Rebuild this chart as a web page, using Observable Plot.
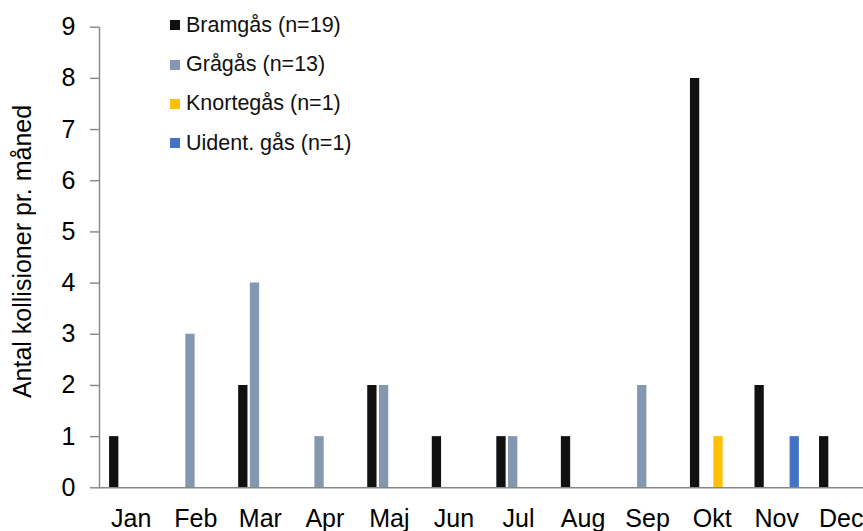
<!DOCTYPE html>
<html>
<head>
<meta charset="utf-8">
<script src="https://cdn.jsdelivr.net/npm/d3@7"></script>
<script src="https://cdn.jsdelivr.net/npm/@observablehq/plot@0.6"></script>
<style>
  html, body { margin: 0; padding: 0; background: white; overflow: hidden; }
  #wrap { position: relative; width: 863px; height: 531px; overflow: hidden; }
  #legend { position: absolute; left: 170px; top: 5.5px; font-family: "Liberation Sans", Arial, sans-serif; font-size: 21.5px; color: #111; }
  .item { display: flex; align-items: center; height: 39.4px; white-space: nowrap; }
  .sw { width: 10px; height: 10px; margin-right: 6px; }
</style>
</head>
<body>
<div id="wrap"><div id="legend"></div></div>
<script>
const months = ["Jan", "Feb", "Mar", "Apr", "Maj", "Jun", "Jul", "Aug", "Sep", "Okt", "Nov", "Dec"];
const seriesNames = ["Bramgås (n=19)", "Grågås (n=13)", "Knortegås (n=1)", "Uident. gås (n=1)"];
const bramgas   = [1, 0, 2, 0, 2, 1, 1, 1, 0, 8, 2, 1];
const gragas    = [0, 3, 4, 1, 2, 0, 1, 0, 2, 0, 0, 0];
const knortegas = [0, 0, 0, 0, 0, 0, 0, 0, 0, 1, 0, 0];
const uident    = [0, 0, 0, 0, 0, 0, 0, 0, 0, 0, 1, 0];
const yTicks = [0, 1, 2, 3, 4, 5, 6, 7, 8, 9];
const yTitle = "Antal kollisioner pr. måned";

const seriesValues = [bramgas, gragas, knortegas, uident];
const colors = ["#111111", "#8497b0", "#ffc000", "#4472c4"];
const offsets = [-17.55, -5.85, 5.85, 17.55];

const barMarks = seriesValues.map((vals, s) =>
  Plot.ruleX(
    months.map((m, i) => ({month: m, value: vals[i]})).filter(d => d.value > 0),
    {x: "month", y1: 0, y2: "value", stroke: colors[s], strokeWidth: 9.3, dx: offsets[s]}
  )
);

const chart = Plot.plot({
  width: 863,
  height: 531,
  marginLeft: 99,
  marginTop: 27,
  marginBottom: 44,
  marginRight: 0,
  x: {type: "band", domain: months, range: [98.5, 873], padding: 0, round: false},
  y: {domain: [0, 9], range: [487.3, 26.7]},
  style: {fontFamily: "'Liberation Sans', Arial, sans-serif", fontSize: "25px", color: "#000", background: "white"},
  marks: [
    ...barMarks,
    Plot.ruleY([0], {stroke: "#868686", strokeWidth: 1.4}),
    Plot.frame({anchor: "left", stroke: "#868686", strokeWidth: 1.4}),
    Plot.axisY({ticks: yTicks, tickSize: 9, tickPadding: 15, fontSize: 25, label: null, stroke: "#868686", strokeWidth: 1.4, tickFormat: d3.format("d")}),
    Plot.axisX({tickSize: 0, tickPadding: 22, fontSize: 25, label: null}),
    Plot.text([yTitle], {frameAnchor: "left", textAnchor: "middle", rotate: -90, dx: -77, dy: -6, fontSize: 25, fill: "#000"})
  ]
});
document.getElementById("wrap").prepend(chart);

const legend = document.getElementById("legend");
seriesNames.forEach((name, i) => {
  const item = document.createElement("div");
  item.className = "item";
  const sw = document.createElement("div");
  sw.className = "sw";
  sw.style.background = colors[i];
  const label = document.createElement("span");
  label.textContent = name;
  item.append(sw, label);
  legend.append(item);
});
</script>
</body>
</html>
